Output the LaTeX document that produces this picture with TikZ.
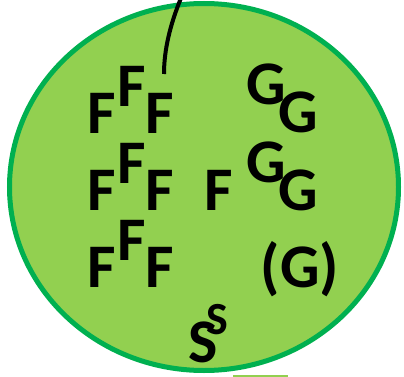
\documentclass[tikz,border=0pt]{standalone}
\usepackage{fontspec}
\usetikzlibrary{shapes.geometric}
\setmainfont{Carlito}
\definecolor{cellfill}{HTML}{92D050}
\definecolor{cellline}{HTML}{00B050}
\tikzset{
  big/.style={anchor=base, inner sep=0pt, font=\fontsize{62}{62}\selectfont\bfseries},
  smallS/.style={anchor=base, inner sep=0pt, font=\fontsize{46}{46}\selectfont\bfseries},
}
\begin{document}
\begin{tikzpicture}[x=1pt,y=-1pt]
\useasboundingbox (0,0) rectangle (404,377);
\node[draw=cellline, fill=cellfill, line width=5pt, ellipse, minimum width=389pt, minimum height=367pt, inner sep=0pt] (cell) at (204,187) {};
\draw[cellfill, line width=2pt] (233,375.5) -- (288,375.5);
\coordinate (tailtop) at (181,-2);
\coordinate (tailend) at (164,74);
\draw[line width=4pt] (tailtop) .. controls (170,25) and (164,50) .. (tailend);
% F cluster
\node[big] (f11) at (102,133) {F};
\node[big] (f12) at (132,107) {F};
\node[big] (f13) at (160,133) {F};
\node[big] (f21) at (102,210) {F};
\node[big] (f22) at (132,183) {F};
\node[big] (f23) at (160,210) {F};
\node[big] (f31) at (102,287) {F};
\node[big] (f32) at (132,260) {F};
\node[big] (f33) at (160,287) {F};
\node[big] (f4) at (218.5,210) {F};
% G cluster
\node[big] (g11) at (266,105) {G};
\node[big] (g12) at (298.5,132) {G};
\node[big] (g21) at (266,182) {G};
\node[big] (g22) at (298.5,210) {G};
\node[big] (g3) at (300,287) {(G)};
% S
\node[big] (s1) at (203,362) {S};
\node[smallS] (s2) at (217.5,334) {S};
\end{tikzpicture}
\end{document}
